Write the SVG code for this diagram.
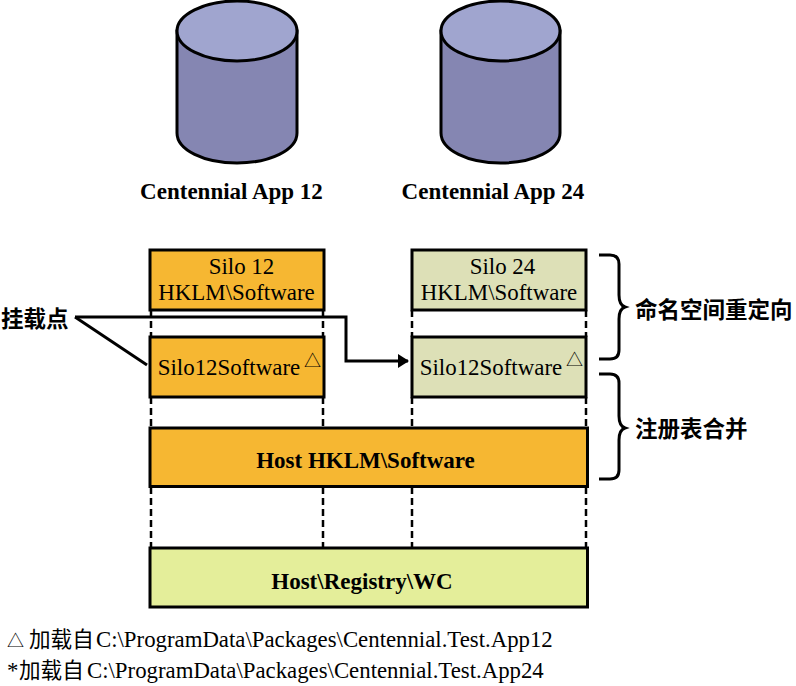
<svg xmlns="http://www.w3.org/2000/svg" width="796" height="686" viewBox="0 0 796 686">
<style>
text{font-family:"Liberation Serif","Noto Sans CJK SC",serif;fill:#000}
.l{font-size:22.9px;text-anchor:middle}
.b{font-size:23px;font-weight:700;text-anchor:middle}
.c{font-family:"Noto Sans CJK SC",sans-serif;font-size:22.5px;font-weight:700}
.f{font-size:22.8px}
.z{font-family:"Noto Sans CJK SC",sans-serif;font-size:21.6px}
.t{font-family:"Noto Sans CJK SC",sans-serif;font-size:17px}
.box{stroke:#000;stroke-width:3}
.o{fill:#f6b732}.g{fill:#dde0b7}.y{fill:#e4ee9a}
.body{fill:#8586b2;stroke:#000;stroke-width:3}
.top{fill:#a0a5cf;stroke:#000;stroke-width:3}
.d{fill:none;stroke:#000;stroke-width:2.5;stroke-dasharray:7 4}
.s{fill:none;stroke:#000;stroke-width:3}
.br{fill:none;stroke:#000;stroke-width:3}
</style>
<defs><marker id="a" markerWidth="11" markerHeight="14" refX="10" refY="7" orient="auto" markerUnits="userSpaceOnUse"><path d="M0 0L11 7L0 14z" fill="#000"/></marker></defs>
<g id="db12"><path class="body" d="M177 31V133C177 150 204 163 237 163S297 150 297 133V31z"/><ellipse class="top" cx="237" cy="31" rx="60" ry="30"/><text class="b" x="231.500" y="199">Centennial App 12</text></g>
<g id="db24"><path class="body" d="M441 31V133C441 150 468 163 500.500 163S560 150 560 133V31z"/><ellipse class="top" cx="500.500" cy="31" rx="59.500" ry="30"/><text class="b" x="493" y="199">Centennial App 24</text></g>
<g id="connectors">
<path class="d" d="M151 310V336M323 310V336M151 397V427M323 397V427M412 310V337M586 310V337M412 397V427M586 397V427M151 487V548M323 487V548M412 487V548M586 487V548"/>
<path class="s" d="M75 317H346V361H408" marker-end="url(#a)"/>
<path class="s" d="M75 317L147 365"/>
<path class="br" d="M599 255H610Q619 255 619 264V295Q619 305 625 307Q619 309 619 319V350Q619 359 610 359H599"/>
<path class="br" d="M599 374H610Q619 374 619 383V416Q619 426 625 428Q619 430 619 440V470Q619 479 610 479H599"/>
</g>
<g id="silo12"><rect class="box o" x="150" y="250" width="174" height="60"/><text class="l" x="241.500" y="274">Silo 12</text><text class="l" x="236.500" y="300">HKLM\Software</text></g>
<g id="silo12sw"><rect class="box o" x="150" y="337" width="174" height="60"/><text class="l" x="229" y="375">Silo12Software</text><text class="t" x="304" y="367">△</text></g>
<g id="silo24"><rect class="box g" x="412" y="250" width="174" height="60"/><text class="l" x="502.500" y="274">Silo 24</text><text class="l" x="499" y="300">HKLM\Software</text></g>
<g id="silo24sw"><rect class="box g" x="412" y="337" width="174" height="60"/><text class="l" x="491" y="375">Silo12Software</text><text class="t" x="566" y="366">△</text></g>
<g id="host"><rect class="box o" x="150" y="428" width="437.500" height="58.500"/><text class="b" x="365.500" y="468">Host HKLM\Software</text></g>
<g id="wc"><rect class="box y" x="150" y="548" width="437.500" height="59"/><text class="b" x="362" y="589">Host\Registry\WC</text></g>
<g id="labels">
<text class="c" x="1" y="327">挂载点</text>
<text class="c" x="635" y="318">命名空间重定向</text>
<text class="c" x="635" y="437">注册表合并</text>
<text class="f" x="7" y="647"><tspan class="t">△</tspan><tspan class="z" x="29">加载自</tspan><tspan x="96">C:\ProgramData\Packages\Centennial.Test.App12</tspan></text>
<text class="f" x="7" y="678">*<tspan class="z" x="19">加载自</tspan><tspan x="87">C:\ProgramData\Packages\Centennial.Test.App24</tspan></text>
</g>
</svg>
